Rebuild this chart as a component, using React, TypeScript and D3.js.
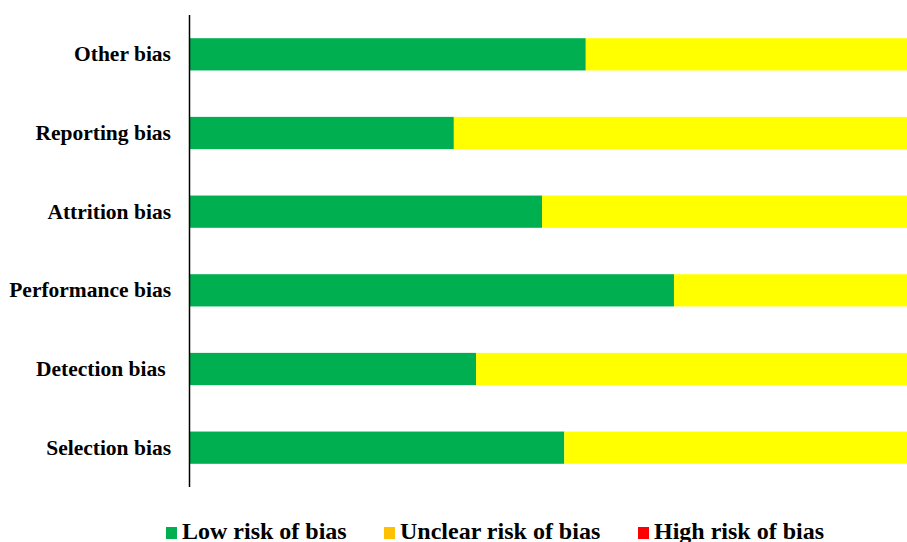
import React from "react";
import * as d3 from "d3";

const categories = ["Other bias", "Reporting bias", "Attrition bias", "Performance bias", "Detection bias ", "Selection bias"];
const lowRisk = [55.2, 36.8, 49.1, 67.5, 39.9, 52.2];
const unclearRisk = [44.8, 63.2, 50.9, 32.5, 60.1, 47.8];
const highRisk = [0, 0, 0, 0, 0, 0];
const legendLabels = ["Low risk of bias", "Unclear risk of bias", "High risk of bias"];

const W = 907;
const H = 542;
const FONT = "Liberation Serif, Times New Roman, serif";

export default function App() {
  const x = d3.scaleLinear().domain([0, 100]).range([190, 907]);
  const y = d3.scaleBand<string>().domain(categories).range([15, 487]).paddingInner(0.59).paddingOuter(0.295);
  const barColors = ["#00B050", "#FFFF00", "#FF0000"];
  const legendColors = ["#00B050", "#FFC000", "#FF0000"];
  const legendX = [166, 384, 638];

  return (
    <svg width={W} height={H} style={{ position: "absolute", left: 0, top: 0, background: "#fff", fontFamily: FONT }}>
      {categories.map((c, i) => {
        const segs = [lowRisk[i], unclearRisk[i], highRisk[i]];
        let acc = 0;
        return (
          <g key={c}>
            {segs.map((v, j) => {
              const x0 = x(acc);
              acc += v;
              const x1 = x(acc);
              return v > 0 ? (
                <rect key={j} x={x0} y={y(c)} width={x1 - x0} height={y.bandwidth()} fill={barColors[j]} />
              ) : null;
            })}
            <text
              x={171}
              y={(y(c) as number) + y.bandwidth() / 2}
              dy="0.33em"
              textAnchor="end"
              fontWeight="bold"
              fontSize={21.5}
              style={{ whiteSpace: "pre", fontFamily: FONT }}
            >
              {c}
            </text>
          </g>
        );
      })}
      <line x1={189.5} x2={189.5} y1={15} y2={487} stroke="#000" strokeWidth={1.5} />
      {legendLabels.map((l, i) => (
        <g key={l}>
          <rect x={legendX[i]} y={527} width={11} height={12} fill={legendColors[i]} />
          <text x={legendX[i] + 16} y={539} fontWeight="bold" fontSize={24} style={{ fontFamily: FONT }}>
            {l}
          </text>
        </g>
      ))}
    </svg>
  );
}
